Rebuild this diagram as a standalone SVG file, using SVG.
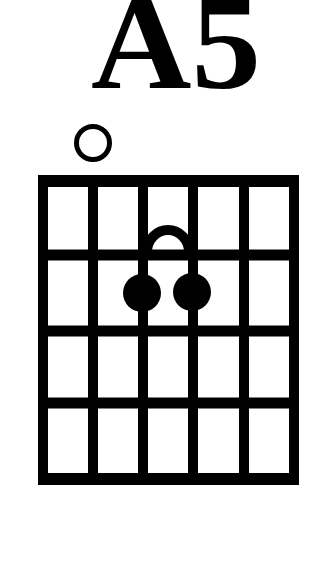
<svg xmlns="http://www.w3.org/2000/svg" width="321" height="561" viewBox="0 0 321 561">
<style>
.title{font-family:"Liberation Serif","Times New Roman",serif;font-weight:bold;font-size:133px;fill:#000}
.str{stroke:#000;stroke-width:10;fill:none}
.fret{stroke:#000;stroke-width:11;fill:none}
.dot{fill:#000}
</style>
<rect width="321" height="561" fill="#fff"/>
<g id="title"><text class="title" x="91" y="88" textLength="170" lengthAdjust="spacingAndGlyphs">A5</text></g>
<g id="open-string"><circle cx="93" cy="143" r="16.5" fill="none" stroke="#000" stroke-width="5"/></g>
<g id="grid">
<line class="fret" x1="38" y1="181" x2="299" y2="181" style="stroke-width:12"/>
<line class="fret" x1="38" y1="255" x2="299" y2="255"/>
<line class="fret" x1="38" y1="331" x2="299" y2="331"/>
<line class="fret" x1="38" y1="403" x2="299" y2="403"/>
<line class="fret" x1="38" y1="479" x2="299" y2="479" style="stroke-width:12"/>
<line class="str" x1="43" y1="175" x2="43" y2="485"/>
<line class="str" x1="93" y1="175" x2="93" y2="485"/>
<line class="str" x1="143" y1="175" x2="143" y2="485"/>
<line class="str" x1="193" y1="175" x2="193" y2="485"/>
<line class="str" x1="244" y1="175" x2="244" y2="485"/>
<line class="str" x1="294" y1="175" x2="294" y2="485"/>
</g>
<g id="connectors"><path d="M147 252 A21 22 0 0 1 189 252" fill="none" stroke="#000" stroke-width="10"/></g>
<g id="dot1"><circle class="dot" cx="142" cy="293" r="19"/></g>
<g id="dot2"><circle class="dot" cx="192" cy="292" r="19"/></g>
</svg>
